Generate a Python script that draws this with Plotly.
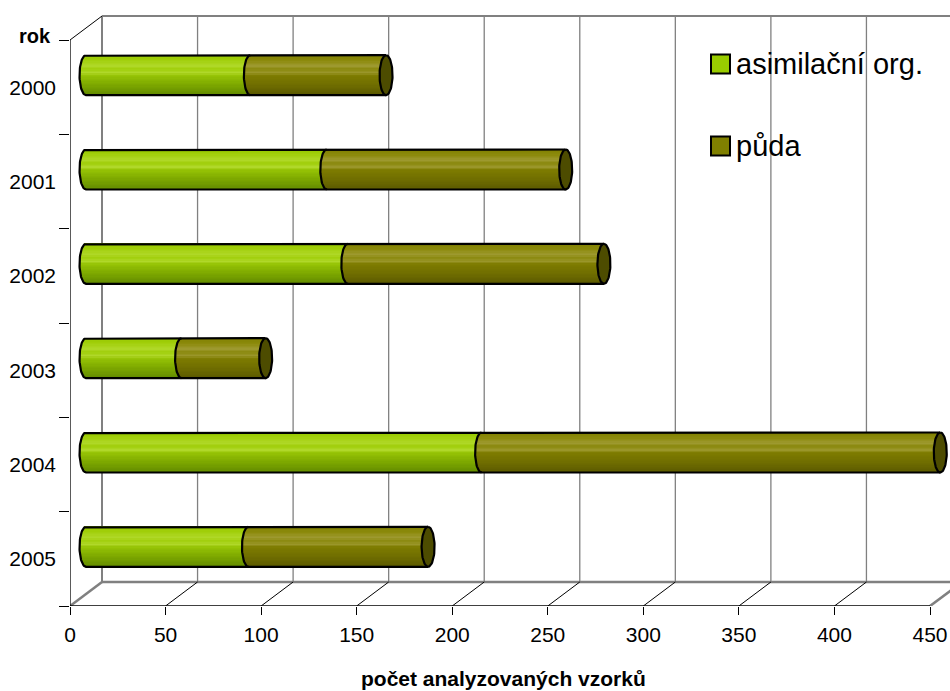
import numpy as np
import plotly.graph_objects as go

# ---- data -------------------------------------------------------------
years = ["2000", "2001", "2002", "2003", "2004", "2005"]
asimilacni_org = [86, 126, 137, 50, 207, 85]
puda = [71, 125, 134, 44, 240, 94]
x_ticks = [0, 50, 100, 150, 200, 250, 300, 350, 400, 450]

# ---- geometry ---------------------------------------------------------
W, H = 950, 691
ML, MR, MT, MB = 70, 0, 15, 85
PLOT_W = W - ML - MR
PLOT_H = H - MT - MB
N = len(years)
X_FRONT_MAX = 450
PX_X = 860 / X_FRONT_MAX          # pixels per value unit on the front plane
PX_Y = 566 / N                    # pixels per category on the front plane

x_range = [0, PLOT_W / PX_X]
y_bottom = N - 0.5
y_top = y_bottom - PLOT_H / PX_Y
y_range = [y_bottom, y_top]

DXU = 32 / PX_X                   # depth offset of the back wall (x units)
DYU = 24 / PX_Y                   # depth offset of the back wall (y units)

BAR_H = 40 / PX_Y                 # cylinder diameter in category units
RX = 6.5 / PX_X                   # horizontal radius of the end ellipses
NS = 30                           # shading strips per cylinder
SH = BAR_H / NS

FONT = "Liberation Sans, Arial, sans-serif"

GREEN_STOPS = [(0.0, (150, 200, 0)), (0.12, (160, 206, 8)), (0.28, (176, 216, 40)),
               (0.36, (160, 206, 10)), (0.45, (176, 216, 42)), (0.52, (150, 196, 5)),
               (0.75, (125, 168, 0)), (1.0, (100, 140, 0))]
OLIVE_STOPS = [(0.0, (128, 128, 0)), (0.15, (140, 138, 12)), (0.28, (158, 154, 48)),
               (0.36, (138, 136, 12)), (0.45, (154, 150, 42)), (0.52, (126, 124, 0)),
               (0.75, (112, 110, 0)), (1.0, (92, 90, 0))]
CAP_COLOR = "#4d4c00"


def shade(stops, t):
    ts = [s[0] for s in stops]
    rgb = [np.interp(t, ts, [s[1][c] for s in stops]) for c in range(3)]
    return "rgb(%d,%d,%d)" % tuple(round(v) for v in rgb)


def px_x(px):
    return (px - ML) / PLOT_W


def px_y(py):
    return (H - MB - py) / PLOT_H


fig = go.Figure()
cats = list(range(N))

# ---- cylinder bodies (horizontal strips give the round shading) ------
for k in range(NS):
    t = (k + 0.5) / NS
    s = 2 * t - 1
    w = RX * np.sqrt(max(0.0, 1 - s * s))
    off = -BAR_H / 2 + k * SH
    fig.add_trace(go.Bar(
        orientation="h", y=cats, x=asimilacni_org,
        base=[-w] * N, width=SH * 1.2, offset=off,
        marker=dict(color=shade(GREEN_STOPS, t), line=dict(width=0)),
        xaxis="x2", yaxis="y2", showlegend=False, hoverinfo="skip"))
    fig.add_trace(go.Bar(
        orientation="h", y=cats, x=puda,
        base=[g - w for g in asimilacni_org], width=SH * 1.2, offset=off,
        marker=dict(color=shade(OLIVE_STOPS, t), line=dict(width=0)),
        xaxis="x2", yaxis="y2", showlegend=False, hoverinfo="skip"))

# ---- end caps and outlines -------------------------------------------
phi_half = np.linspace(0, np.pi, 40)
phi_full = np.linspace(0, 2 * np.pi, 80)
cap_x, cap_y, out_x, out_y = [], [], [], []
for i, (g, p) in enumerate(zip(asimilacni_org, puda)):
    total = g + p
    top, bot = i - BAR_H / 2, i + BAR_H / 2
    # right end face
    cap_x += list(total + RX * np.sin(phi_full)) + [None]
    cap_y += list(i - BAR_H / 2 * np.cos(phi_full)) + [None]
    # body outline with the rounded left end
    out_x += [total] + list(0 - RX * np.sin(phi_half)) + [total, None]
    out_y += [top] + list(top + BAR_H / 2 * (1 - np.cos(phi_half))) + [bot, None]
    # seam between the two series
    out_x += list(g - RX * np.sin(phi_half)) + [None]
    out_y += list(top + BAR_H / 2 * (1 - np.cos(phi_half))) + [None]

fig.add_trace(go.Scatter(x=cap_x, y=cap_y, mode="lines", fill="toself",
                         fillcolor=CAP_COLOR, line=dict(color="black", width=2.2),
                         xaxis="x2", yaxis="y2", showlegend=False, hoverinfo="skip"))
fig.add_trace(go.Scatter(x=out_x, y=out_y, mode="lines",
                         line=dict(color="black", width=2.2),
                         xaxis="x2", yaxis="y2", showlegend=False, hoverinfo="skip"))

# ---- walls, floor and axis lines -------------------------------------
shapes = []
GRAY = "#808080"
floor_y = y_bottom - DYU
wall_top = -0.5 - DYU
for v in x_ticks:
    shapes.append(dict(type="line", xref="x", yref="y", x0=v + DXU, x1=v + DXU,
                       y0=floor_y, y1=wall_top,
                       line=dict(color=GRAY, width=2 if v == 0 else 1.3), layer="below"))
# legend backdrop hides the grid behind it
shapes.append(dict(type="rect", xref="paper", yref="paper",
                   x0=px_x(690), x1=px_x(950), y0=px_y(187), y1=px_y(17),
                   fillcolor="white", line=dict(width=0), layer="below"))
shapes.append(dict(type="line", xref="x", yref="y", x0=DXU, x1=X_FRONT_MAX + DXU,
                   y0=wall_top, y1=wall_top, line=dict(color=GRAY, width=2), layer="below"))
shapes.append(dict(type="line", xref="x", yref="y", x0=DXU, x1=X_FRONT_MAX + DXU,
                   y0=floor_y, y1=floor_y, line=dict(color=GRAY, width=2.6), layer="below"))
for v in (0, X_FRONT_MAX):
    shapes.append(dict(type="line", xref="x", yref="y", x0=v, x1=v + DXU,
                       y0=y_bottom, y1=floor_y, line=dict(color=GRAY, width=2.6),
                       layer="below"))
for v in x_ticks[1:-1]:
    shapes.append(dict(type="line", xref="x", yref="y", x0=v, x1=v + DXU,
                       y0=y_bottom, y1=floor_y, line=dict(color="black", width=1),
                       layer="below"))
shapes.append(dict(type="line", xref="x", yref="y", x0=0, x1=DXU,
                   y0=-0.5, y1=wall_top, line=dict(color="black", width=1), layer="below"))
shapes.append(dict(type="line", xref="x", yref="y", x0=0, x1=0,
                   y0=-0.5, y1=y_bottom, line=dict(color="black", width=1.3), layer="below"))
shapes.append(dict(type="line", xref="x", yref="y", x0=0, x1=X_FRONT_MAX,
                   y0=y_bottom, y1=y_bottom, line=dict(color="black", width=1.3),
                   layer="below"))

# ---- legend ------------------------------------------------------------
legend_items = [("asimilační org.", "#99CC00", 64), ("půda", "#808000", 146)]
annotations = []
for label, color, cy in legend_items:
    shapes.append(dict(type="rect", xref="paper", yref="paper",
                       x0=px_x(711), x1=px_x(730), y0=px_y(cy + 9.5), y1=px_y(cy - 9.5),
                       fillcolor=color, line=dict(color="black", width=2)))
    annotations.append(dict(text=label, xref="paper", yref="paper", x=px_x(734),
                            y=px_y(cy), xanchor="left", yanchor="middle", showarrow=False,
                            font=dict(family=FONT, size=29, color="black")))

annotations.append(dict(text="<b>rok</b>", xref="paper", yref="paper", x=px_x(53),
                        y=px_y(36), xanchor="right", yanchor="middle", showarrow=False,
                        font=dict(family=FONT, size=20, color="black")))
annotations.append(dict(text="<b>počet analyzovaných vzorků</b>", xref="paper",
                        yref="paper", x=px_x(503), y=px_y(678), xanchor="center",
                        yanchor="middle", showarrow=False,
                        font=dict(family=FONT, size=21, color="black")))

fig.update_layout(
    width=W, height=H,
    margin=dict(l=ML, r=MR, t=MT, b=MB, autoexpand=False),
    paper_bgcolor="white", plot_bgcolor="white",
    barmode="overlay", bargap=0,
    font=dict(family=FONT, size=21, color="black"),
    shapes=shapes, annotations=annotations,
    xaxis=dict(range=x_range, tickvals=x_ticks, ticks="outside", ticklen=8,
               tickcolor="black", tickwidth=1, showline=False, showgrid=False,
               zeroline=False, ticklabelstandoff=2,
               tickfont=dict(family=FONT, size=21, color="black")),
    yaxis=dict(range=y_range, tickvals=cats, ticktext=years, ticks="",
               showline=False, showgrid=False, zeroline=False, ticklabelstandoff=13,
               minor=dict(tickvals=[i - 0.5 for i in range(N + 1)], ticks="outside",
                          ticklen=10, tickcolor="black", tickwidth=1, showgrid=False),
               tickfont=dict(family=FONT, size=21, color="black")),
    xaxis2=dict(overlaying="x", anchor="y2",
                range=[x_range[0] - DXU / 2, x_range[1] - DXU / 2], visible=False),
    yaxis2=dict(overlaying="y", anchor="x2",
                range=[y_bottom + DYU / 2, y_top + DYU / 2], visible=False),
)

fig.write_html("out.html")
